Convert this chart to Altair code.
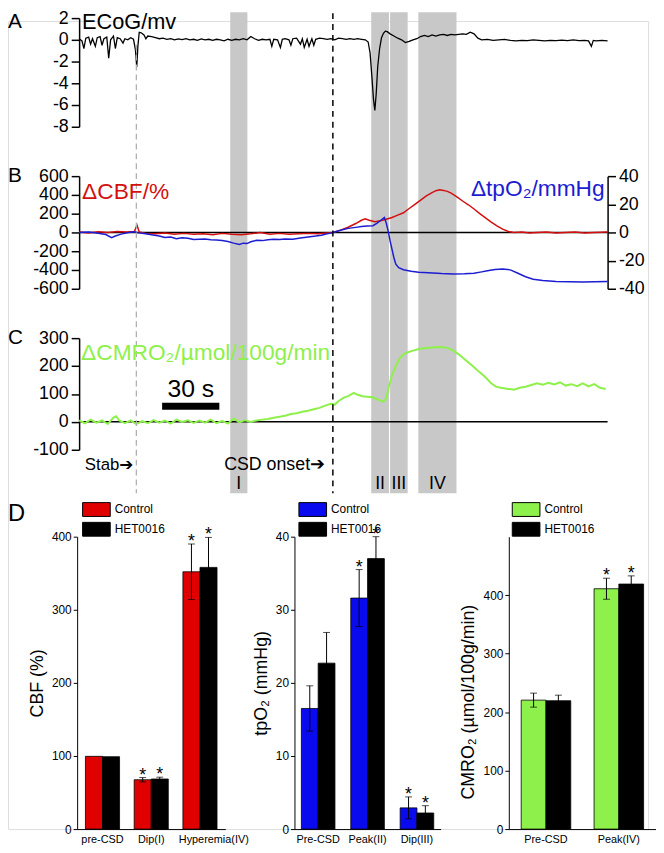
import altair as alt
import pandas as pd

FONT = "Liberation Sans, DejaVu Sans"

# ---------------- data: time courses (t in s) ----------------
T_END = 277
STAB_T = 30
CSD_T = 133
BAND_LABELS = ["I", "II", "III", "IV"]
BAND_START = [79.2, 153.1, 163.0, 177.8]
BAND_END = [88.2, 162.4, 172.2, 197.8]
SCALE_BAR_S = [43.5, 73.5]  # 30 s bar

ECOG = [(0, 0.1), (1.5, -0.1), (2.5, -0.8), (3.5, 0.15), (5, 0.25), (6, -0.4), (7, 0.1), (8.5, -0.6),
        (9.5, 0.2), (11, 0.3), (12, -0.5), (13, 0.1), (14.5, 0.25), (15.5, -1.7), (16.5, 0.0), (18, 0.35),
        (19, -0.8), (20, 0.2), (21.5, 0.1), (23, -0.3), (24, 0.1), (25.5, 0.0), (27, 0.2), (28.5, 0.05),
        (29.5, -0.9), (30.2, -2.5), (30.8, -0.6), (31.5, 0.7), (32.5, 0.65), (34, 0.45), (35, 0.1), (36, 0.35),
        (38, 0.3), (40, 0.2), (42, 0.1), (44, 0.15), (46, 0.05), (48, 0.1), (50, 0.0), (52, 0.08), (54, 0.02),
        (56, 0.1), (58, 0.0), (60, 0.05), (62, -0.05), (64, 0.08), (66, 0.0), (68, 0.05), (70, -0.05),
        (72, 0.05), (74, 0.0), (76, -0.1), (78, 0.05), (80, -0.05), (82, 0.05), (84, 0.0), (86, 0.1),
        (88, 0.0), (90, 0.3), (92, 0.1), (94, -0.05), (96, 0.05), (98, 0.0), (100, 0.05), (101, -0.6),
        (102, 0.05), (104, 0.0), (105.5, -0.7), (106.5, 0.05), (108, 0.1), (110, 0.0), (111, -0.5), (112, 0.1),
        (114, 0.15), (116, -0.4), (117, 0.1), (118, -0.7), (119.5, 0.05), (120.5, -0.6), (122, 0.1),
        (123, -0.5), (124, 0.05), (126, 0.15), (128, 0.1), (130, 0.05), (132, 0.1), (134, 0.0), (136, 0.15),
        (138, 0.1), (140, 0.05), (142, 0.1), (144, 0.05), (146, 0.1), (148, 0.05), (150, 0.0), (151.5, -0.2),
        (152.5, -1.2), (153.5, -3.5), (154.3, -5.5), (155, -6.5), (155.7, -5.0), (156.5, -2.5), (157.5, -0.8),
        (158.5, 0.2), (159.5, 0.6), (160.5, 0.8), (161.5, 0.75), (163, 0.55), (165, 0.35), (167, 0.15),
        (169, 0.0), (171, -0.25), (173, -0.15), (175, 0.0), (177, 0.1), (179, 0.3), (181, 0.4), (183, 0.3),
        (185, 0.45), (187, 0.35), (189, 0.45), (191, 0.5), (193, 0.4), (195, 0.5), (197, 0.45), (199, 0.5),
        (201, 0.55), (203, 0.5), (205, 0.7), (207, 0.55), (209, 0.15), (211, 0.0), (214, 0.05), (217, -0.05),
        (220, 0.0), (223, 0.05), (226, -0.05), (229, -0.1), (232, -0.05), (235, -0.08), (238, 0.0),
        (241, -0.05), (244, -0.1), (247, -0.05), (250, -0.08), (253, -0.03), (256, -0.08), (259, 0.0),
        (262, -0.08), (265, -0.05), (267, -0.1), (268.5, -0.6), (269.5, -0.05), (271, -0.1), (274, -0.05),
        (277, -0.1)]

CBF = [(0, 5), (5, -5), (10, 8), (15, 0), (20, 10), (25, 5), (29, 10), (30.3, 80), (31.5, 5), (35, -10),
       (40, -15), (45, -5), (50, -20), (55, -10), (60, -20), (65, -15), (70, -25), (75, -10), (80, -20),
       (85, -25), (90, -15), (95, 0), (100, -20), (105, -10), (110, -20), (115, -15), (120, -10), (125, -15),
       (130, -5), (133, 0), (137, 25), (141, 55), (145, 95), (148, 130), (150, 145), (152, 130), (155, 115),
       (158, 125), (161, 140), (164, 160), (167, 185), (170, 210), (173, 255), (176, 300), (179, 345),
       (182, 390), (185, 425), (187, 445), (189, 455), (191, 448), (193, 438), (195, 420), (198, 380),
       (201, 335), (204, 295), (207, 250), (210, 200), (213, 155), (216, 110), (219, 70), (222, 35),
       (225, 10), (228, 0), (232, 5), (236, -5), (240, 0), (245, 5), (250, -5), (255, 0), (260, 5),
       (265, -5), (270, 0), (277, 5)]

TPO2 = [(0, 0), (5, 0.3), (10, -0.5), (14, -1.5), (17, -3.7), (19, -2.5), (22, -1.2), (26, 0), (29, 0.5),
        (31, -0.3), (34, -0.8), (38, -1.6), (42, -2.5), (45, -3.6), (48, -3.3), (51, -4.4), (54, -3.8),
        (57, -4.2), (60, -5.0), (63, -4.8), (66, -4.7), (69, -5.2), (72, -5.4), (75, -5.8), (78, -6.5),
        (81, -7.6), (84, -8.5), (86, -7.6), (88, -7.9), (90, -6.6), (93, -5.6), (96, -5.8), (99, -5.2),
        (102, -4.8), (105, -5.0), (108, -4.6), (112, -4.9), (116, -4.0), (120, -3.2), (124, -2.6),
        (127, -2.0), (130, -1.0), (133, 0), (137, 1.5), (141, 2.9), (145, 3.6), (148, 4.2), (151, 4.6),
        (154, 4.8), (156, 6.5), (158, 8.5), (160, 10.7), (161, 6.5), (162, 1), (163, -6), (164, -12),
        (165, -18), (166, -22.5), (167.5, -25), (170, -26.5), (174, -27.6), (178, -28.2), (183, -28.6),
        (190, -29.2), (196, -29.5), (202, -29.4), (207, -29.0), (211, -28.0), (214, -27.2), (218, -26.3),
        (222, -26.0), (226, -26.6), (230, -29.0), (234, -31.5), (238, -33.3), (243, -34.2), (250, -34.8),
        (257, -35.0), (264, -35.2), (270, -35.0), (277, -34.8)]

CMRO2 = [(0, 5), (3, -5), (6, 8), (9, -3), (12, 5), (15, -8), (18, 15), (19.5, 20), (21, 5), (24, -5),
         (27, 5), (30, -8), (33, 3), (36, -5), (39, 6), (42, -3), (45, 5), (48, -6), (51, 8), (54, 0),
         (57, 6), (60, -4), (63, 5), (66, -3), (69, 8), (72, -5), (75, 4), (78, -6), (81, 12), (84, -2),
         (87, 6), (90, 0), (93, 5), (96, 8), (99, 10), (102, 15), (105, 18), (108, 22), (111, 28), (114, 31),
         (117, 36), (120, 40), (123, 45), (126, 50), (129, 58), (132, 65), (134, 62), (136, 75), (139, 88),
         (141, 92), (144, 104), (146, 97), (148.5, 92), (151, 90), (153.8, 88), (156, 82), (158, 76),
         (159.5, 72), (161, 85), (162.5, 130), (164, 168), (166, 200), (168, 228), (170, 242), (172.5, 250),
         (175.5, 256), (178.5, 262), (182.5, 265), (186, 267), (189, 268), (192.5, 266), (195.5, 258),
         (199, 242), (202.5, 222), (206, 202), (209.5, 180), (213, 160), (216, 138), (218.5, 126),
         (221, 122), (224, 119), (228, 115), (231, 122), (234, 126), (237, 132), (240, 138), (243, 133),
         (246, 140), (249, 134), (252, 142), (255, 130), (258, 135), (261, 128), (264, 138), (267, 127),
         (270, 135), (273, 122), (276, 118)]

# ---------------- data: bar charts (mean, SEM) ----------------
GROUPS = ["Control", "HET0016"]

CBF_CATS = ["pre-CSD", "Dip(I)", "Hyperemia(IV)"]
CBF_CTRL = [99.5, 67.5, 352]
CBF_CTRL_SEM = [0, 3, 38]
CBF_HET = [99, 68.5, 358]
CBF_HET_SEM = [0, 2.5, 41]
CBF_SIG = ["", "*", "*"]

TPO2_CATS = ["Pre-CSD", "Peak(II)", "Dip(III)"]
TPO2_CTRL = [16.5, 31.6, 2.9]
TPO2_CTRL_SEM = [3.1, 3.9, 1.5]
TPO2_HET = [22.7, 37.0, 2.2]
TPO2_HET_SEM = [4.2, 3.0, 1.0]
TPO2_SIG = ["", "*", "*"]

CMRO2_CATS = ["Pre-CSD", "Peak(IV)"]
CMRO2_CTRL = [220.5, 411]
CMRO2_CTRL_SEM = [12, 18]
CMRO2_HET = [219.5, 419]
CMRO2_HET_SEM = [9.5, 14]
CMRO2_SIG = ["", "*"]

# ---------------- layout helpers (page pixel -> plot pixel) ----------------
PL, PT, PR, PB = 0, 8, 8, 19
W = 648
H = 834 - 8 - PT


def px(page_x):
    return page_x - 8 - PL


def py(page_y):
    return page_y - 8 - PT


RED = "#d40f0f"
BLUE = "#1c1cd2"
GREEN = "#8ef04a"
GRAY_BAND = "#c8c8c8"

ONE = pd.DataFrame({"k": [0]})


def tx(field):
    return alt.X(f"{field}:Q", scale=alt.Scale(domain=[0, T_END], range=[px(80), px(615)],
                                                nice=False, zero=False), axis=None)


def yscale(domain, top_page, bottom_page):
    return alt.Scale(domain=domain, range=[py(bottom_page), py(top_page)], nice=False, zero=False)


def top_axis(values, orient, offset):
    return alt.Axis(orient=orient, offset=offset, values=values, title=None, grid=False,
                    domainColor="black", domainWidth=1.5, tickColor="black", tickWidth=1.5,
                    tickSize=8, labelFontSize=18, labelColor="black", labelPadding=3,
                    labelOverlap=False, labelFont=FONT, labelExpr="'' + datum.value")


def label(text, x, y, size, color="black", align="left", baseline="middle"):
    return alt.Chart(ONE).mark_text(text=text, align=align, baseline=baseline, fontSize=size,
                                    color=color, font=FONT).encode(x=alt.value(x), y=alt.value(y))


A_SCALE = yscale([-8, 2], 13, 123)
B_SCALE = yscale([-600, 600], 173, 287)
B2_SCALE = yscale([-40, 40], 173, 287)
C_SCALE = yscale([-100, 300], 337, 450)

bands_df = pd.DataFrame({"label": BAND_LABELS, "start": BAND_START, "end": BAND_END})
bands = alt.Chart(bands_df).mark_rect(color=GRAY_BAND).encode(
    x=tx("start"), x2="end:Q", y=alt.value(py(7)), y2=alt.value(py(494)))
band_text = alt.Chart(bands_df).transform_calculate(mid="(datum.start + datum.end) / 2").mark_text(
    fontSize=18, font=FONT, color="black").encode(x=tx("mid"), y=alt.value(py(485)), text="label:N")

zero_df = pd.DataFrame({"t0": [0], "t1": [T_END], "v": [0]})
b_zero = alt.Chart(zero_df).mark_rule(color="black", strokeWidth=1.5).encode(
    x=tx("t0"), x2="t1:Q", y=alt.Y("v:Q", scale=B_SCALE, axis=None))
c_zero = alt.Chart(zero_df).mark_rule(color="black", strokeWidth=1.5).encode(
    x=tx("t0"), x2="t1:Q", y=alt.Y("v:Q", scale=C_SCALE, axis=None))

ecog_line = alt.Chart(pd.DataFrame(ECOG, columns=["t", "v"])).mark_line(
    color="black", strokeWidth=1.3).encode(
    x=tx("t"), y=alt.Y("v:Q", scale=A_SCALE, axis=top_axis([-8, -6, -4, -2, 0, 2], "left", -px(80))))

cbf_line = alt.Chart(pd.DataFrame(CBF, columns=["t", "v"])).mark_line(
    color=RED, strokeWidth=1.5).encode(
    x=tx("t"), y=alt.Y("v:Q", scale=B_SCALE,
                       axis=top_axis([-600, -400, -200, 0, 200, 400, 600], "left", -px(80))))

tpo2_line = alt.Chart(pd.DataFrame(TPO2, columns=["t", "v"])).mark_line(
    color=BLUE, strokeWidth=1.5).encode(
    x=tx("t"), y=alt.Y("v:Q", scale=B2_SCALE,
                       axis=top_axis([-40, -20, 0, 20, 40], "right", px(615) - W)))

cmro2_line = alt.Chart(pd.DataFrame(CMRO2, columns=["t", "v"])).mark_line(
    color=GREEN, strokeWidth=2).encode(
    x=tx("t"), y=alt.Y("v:Q", scale=C_SCALE, axis=top_axis([-100, 0, 100, 200, 300], "left", -px(80))))

stab_line = alt.Chart(pd.DataFrame({"t": [STAB_T]})).mark_rule(
    color="#b0b0b0", strokeWidth=1.3, strokeDash=[6, 4]).encode(
    x=tx("t"), y=alt.value(py(40)), y2=alt.value(py(494)))
csd_line = alt.Chart(pd.DataFrame({"t": [CSD_T]})).mark_rule(
    color="black", strokeWidth=1.5, strokeDash=[6, 5]).encode(
    x=tx("t"), y=alt.value(py(8)), y2=alt.value(py(494)))

stab_text = alt.Chart(pd.DataFrame({"t": [STAB_T], "s": ["Stab\u2794"]})).mark_text(
    align="right", dx=-3, fontSize=17, font=FONT, color="black").encode(
    x=tx("t"), y=alt.value(py(465)), text="s:N")
csd_text = alt.Chart(pd.DataFrame({"t": [CSD_T], "s": ["CSD onset\u2794"]})).mark_text(
    align="right", dx=-8, fontSize=18, font=FONT, color="black").encode(
    x=tx("t"), y=alt.value(py(465)), text="s:N")

sb_df = pd.DataFrame({"s0": [SCALE_BAR_S[0]], "s1": [SCALE_BAR_S[1]], "txt": ["30 s"]})
scale_bar = alt.Chart(sb_df).mark_rule(color="black", strokeWidth=7).encode(
    x=tx("s0"), x2="s1:Q", y=alt.value(py(406)))
scale_text = alt.Chart(sb_df).transform_calculate(mid="(datum.s0 + datum.s1) / 2").mark_text(
    fontSize=25, font=FONT, color="black").encode(x=tx("mid"), y=alt.value(py(389)), text="txt:N")

texts = [
    label("A", 0, py(17), 21),
    label("B", 0, py(173), 21),
    label("C", 0, py(337), 21),
    label("D", 0, py(515), 24),
    label("ECoG/mv", px(83), py(17), 22),
    label("\u0394CBF/%", px(83), py(189), 23, RED),
    label("\u0394tpO\u2082/mmHg", px(612), py(186), 23, BLUE, align="right"),
    label("\u0394CMRO\u2082/\u00b5mol/100g/min", px(82), py(352), 23, GREEN),
]


# ---------------- bar panels ----------------
def bar_panel(cats, ctrl, ctrl_sem, het, het_sem, sig, color, x_pages, pi, po, y_domain, y_ticks,
              y_title, legend_page, title_pad, title_y=None, shifted_label=None, shift=0):
    rows = []
    for i, c in enumerate(cats):
        for g, vals, sems in (("Control", ctrl, ctrl_sem), ("HET0016", het, het_sem)):
            rows.append({"cat": c, "grp": g, "val": vals[i], "lo": vals[i] - sems[i],
                         "hi": vals[i] + sems[i], "sem": sems[i], "sig": sig[i]})
    df = pd.DataFrame(rows)
    r0, r1 = px(x_pages[0]), px(x_pages[1])
    n = len(cats)
    step = (r1 - r0) / (n - pi + 2 * po)
    bw = step * (1 - pi)
    xaxis_kw = dict(orient="bottom", title=None, ticks=False, tickSize=0, labelAngle=0,
                    labelFontSize=11, labelColor="black", labelPadding=5, labelFont=FONT,
                    domainColor="black", domainWidth=1, labelOverlap=False)
    if shifted_label is not None:
        xaxis_kw["labelOffset"] = {"condition": {"test": f"datum.value == '{shifted_label}'",
                                                 "value": shift}, "value": 0}
    xenc = alt.X("cat:N", sort=cats,
                 scale=alt.Scale(domain=cats, range=[r0, r1], paddingInner=pi, paddingOuter=po),
                 axis=alt.Axis(**xaxis_kw))
    xo = alt.XOffset("grp:N", sort=GROUPS,
                     scale=alt.Scale(domain=GROUPS, range=[0, bw], paddingInner=0, paddingOuter=0))
    ys = alt.Scale(domain=y_domain, range=[py(834), py(538)], nice=False, zero=False)
    axis_kw = dict(orient="left", offset=-px(x_pages[0]), values=y_ticks, title=y_title,
                   titleFontSize=18, titleFontWeight="normal", titleColor="black", titleFont=FONT,
                   titlePadding=title_pad, tickSize=4, tickColor="black", labelPadding=2,
                   labelFontSize=12, labelColor="black", labelFont=FONT, grid=False,
                   domainColor="black", domainWidth=1, labelOverlap=False)
    if title_y is not None:
        axis_kw["titleY"] = title_y
    yaxis = alt.Axis(**axis_kw)
    legend = alt.Legend(orient="none", legendX=px(legend_page[0]), legendY=py(legend_page[1]),
                        title=None, symbolType="M-1,-1H3V1H-1Z", symbolSize=196,
                        symbolStrokeColor="black", symbolStrokeWidth=1, labelFontSize=12,
                        labelColor="black", labelFont=FONT, labelOffset=18, rowPadding=1, padding=0)
    base = alt.Chart(df)
    bars = base.mark_bar(stroke="black", strokeWidth=0.8).encode(
        x=xenc, xOffset=xo, y=alt.Y("val:Q", scale=ys, axis=yaxis),
        color=alt.Color("grp:N", scale=alt.Scale(domain=GROUPS, range=[color, "black"]), legend=legend))
    errs = base.transform_filter("datum.sem > 0")
    rule = errs.mark_rule(color="black", strokeWidth=1).encode(
        x=xenc, xOffset=xo, y=alt.Y("lo:Q", scale=ys, axis=yaxis), y2="hi:Q")
    cap_hi = errs.mark_tick(color="black", thickness=1, size=7).encode(
        x=xenc, xOffset=xo, y=alt.Y("hi:Q", scale=ys, axis=yaxis))
    cap_lo = errs.mark_tick(color="black", thickness=1, size=7).encode(
        x=xenc, xOffset=xo, y=alt.Y("lo:Q", scale=ys, axis=yaxis))
    stars = base.transform_filter("datum.sig != ''").mark_text(
        fontSize=18, font=FONT, color="black", baseline="alphabetic", dy=3).encode(
        x=xenc, xOffset=xo, y=alt.Y("hi:Q", scale=ys, axis=yaxis), text="sig:N")
    return alt.layer(bars, rule, cap_hi, cap_lo, stars)


d1 = bar_panel(CBF_CATS, CBF_CTRL, CBF_CTRL_SEM, CBF_HET, CBF_HET_SEM, CBF_SIG, "#e00000",
               (78, 228), 0.3, 0.17, [0, 400], [0, 100, 200, 300, 400], "CBF (%)", (83, 503), 5,
               shifted_label="Hyperemia(IV)", shift=14)
d2 = bar_panel(TPO2_CATS, TPO2_CTRL, TPO2_CTRL_SEM, TPO2_HET, TPO2_HET_SEM, TPO2_SIG, "#0a0aee",
               (298, 446), 0.32, 0.14, [0, 40], [0, 10, 20, 30, 40], "tpO\u2082 (mmHg)", (302, 503), 5)
d3 = bar_panel(CMRO2_CATS, CMRO2_CTRL, CMRO2_CTRL_SEM, CMRO2_HET, CMRO2_HET_SEM, CMRO2_SIG, GREEN,
               (515, 664), 0.32, 0.17, [0, 500], [0, 100, 200, 300, 400],
               "CMRO\u2082 (\u00b5mol/100g/min)", (518, 503), 6, py(705))

chart = alt.layer(
    bands, b_zero, c_zero, ecog_line, cbf_line, tpo2_line, cmro2_line, stab_line, csd_line,
    band_text, stab_text, csd_text, scale_bar, scale_text, *texts, d1, d2, d3
).resolve_scale(
    x="independent", y="independent", color="independent", xOffset="independent"
).properties(
    width=W, height=H,
    autosize=alt.AutoSizeParams(type="none"),
    padding={"left": PL, "top": PT, "right": PR, "bottom": PB},
).configure_view(stroke=None).configure(font=FONT, background="white")

chart.save("out.html", embed_options={"renderer": "svg", "actions": False})
